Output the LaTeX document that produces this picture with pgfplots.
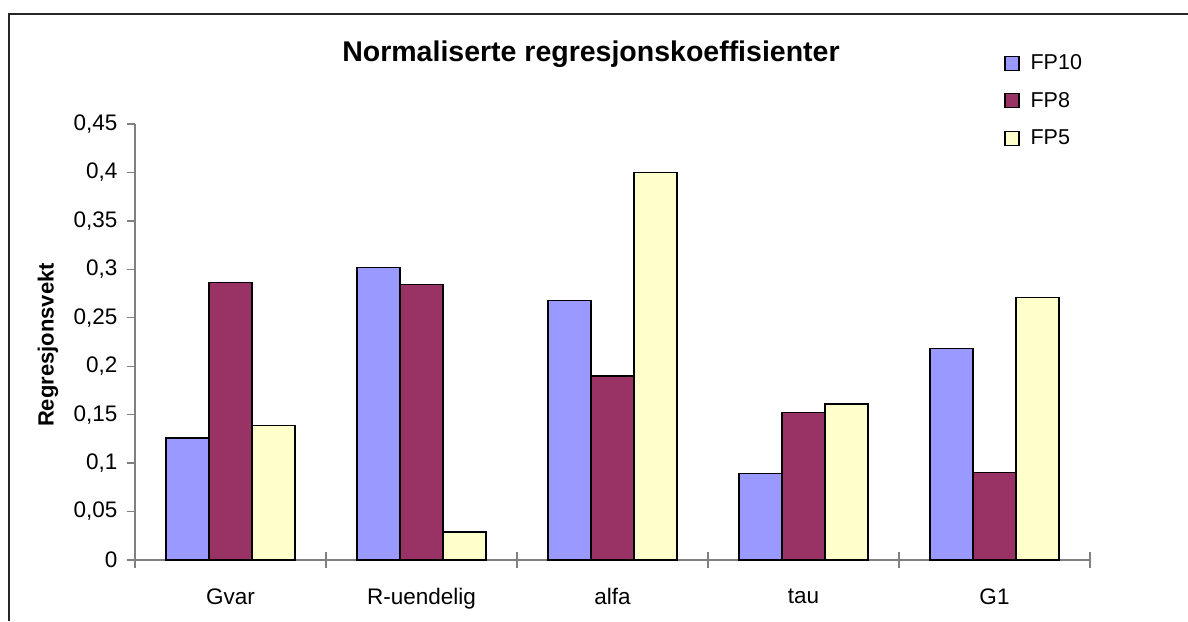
\documentclass[border=0pt]{standalone}
\usepackage{fontspec}
\setmainfont{Liberation Sans}
\usepackage{pgfplots}
\pgfplotsset{compat=1.18}
\definecolor{fpten}{HTML}{9999FF}
\definecolor{fpeight}{HTML}{993366}
\definecolor{fpfive}{HTML}{FFFFCC}
\definecolor{axgray}{HTML}{808080}

\begin{document}
\begin{tikzpicture}
\useasboundingbox (0,0) rectangle (1188pt,621pt);
% chart area frame (only left and top edges visible)
\draw[line width=1.3pt, black!85] (9pt,0pt) -- (9pt,607pt) -- (1188pt,607pt);
\begin{axis}[
  at={(135pt,61pt)}, anchor=south west,
  scale only axis, width=955pt, height=436pt,
  xmin=0, xmax=5, ymin=0, ymax=0.45,
  ybar=0pt, bar width=43pt,
  axis x line*=bottom, axis y line*=left,
  axis line style={axgray, line width=1.3pt, -},
  xtick={0.5,1.5,2.5,3.5,4.5},
  xticklabels={Gvar,R-uendelig,alfa,tau,G1},
  minor xtick={0,1,2,3,4,5},
  ytick={0,0.05,0.1,0.15,0.2,0.25,0.3,0.35,0.4,0.45},
  tick align=outside,
  major tick length=8pt, minor tick length=16pt,
  tick style={axgray, line width=1.3pt},
  major x tick style={draw=none},
  minor x tick style={yshift=8pt},
  ticklabel style={font=\fontsize{22.5}{26}\selectfont},
  /pgf/number format/assume math mode=true,
  yticklabel style={xshift=-6pt, /pgf/number format/.cd, fixed, use comma, precision=2},
  xticklabel style={yshift=-17pt},
  ylabel={Regresjonsvekt},
  ylabel style={font=\fontsize{22}{26}\selectfont\bfseries, at={(axis description cs:-0.091,0.493)}, anchor=center},
  title={Normaliserte regresjonskoeffisienter},
  title style={font=\fontsize{28.5}{32}\selectfont\bfseries, at={(axis description cs:0.4775,1.129)}, anchor=base},
  legend style={at={(axis description cs:0.907,1.168)}, anchor=north west, draw=none, fill=none,
    font=\fontsize{21.5}{26}\selectfont, row sep=17pt, column sep=9pt, cells={anchor=west}},
  legend image code/.code={\draw[#1, draw=black, line width=1.2pt] (0pt,-7pt) rectangle (14pt,7pt);},
]
\addplot[fill=fpten, draw=black, line width=1.2pt] coordinates {(0.5,0.126) (1.5,0.302) (2.5,0.268) (3.5,0.089) (4.5,0.218)};
\addplot[fill=fpeight, draw=black, line width=1.2pt] coordinates {(0.5,0.286) (1.5,0.284) (2.5,0.190) (3.5,0.152) (4.5,0.090)};
\addplot[fill=fpfive, draw=black, line width=1.2pt] coordinates {(0.5,0.139) (1.5,0.029) (2.5,0.400) (3.5,0.161) (4.5,0.271)};
\legend{FP10, FP8, FP5}
\end{axis}
\end{tikzpicture}
\end{document}
